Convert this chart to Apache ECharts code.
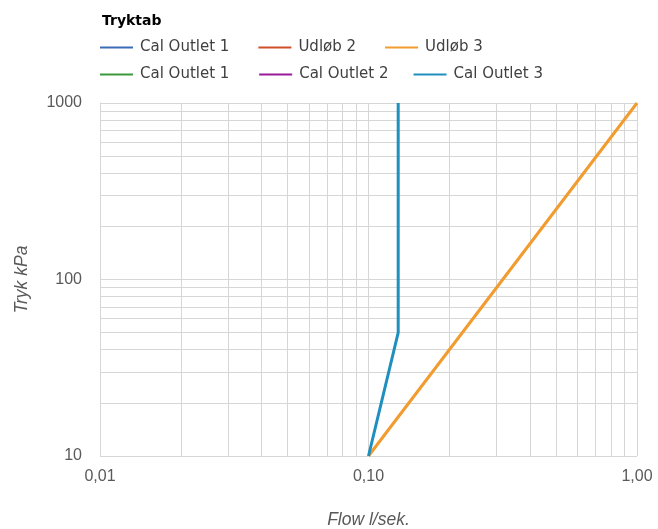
<!DOCTYPE html>
<html><head><meta charset="utf-8">
<script src="https://cdn.jsdelivr.net/npm/echarts@6/dist/echarts.min.js"></script>
<style>html,body{margin:0;padding:0;background:#fff}#c{width:658px;height:529px}</style>
</head><body><div id="c"></div>
<script>
// Data (flow l/sek., pressure kPa)
var seriesNames = ['Cal Outlet 1', 'Udløb 2', 'Udløb 3', 'Cal Outlet 1 ', 'Cal Outlet 2', 'Cal Outlet 3'];
var seriesColors = ['#3A6DB5', '#D0502A', '#F29B2E', '#3A9A3A', '#9A1A9A', '#1F8FC0'];
var calOutlet1A = [];
var udlob2 = [];
var udlob3 = [[0.10, 10], [0.20, 40], [0.50, 250], [1.00, 1000]];
var calOutlet1B = [];
var calOutlet2 = [];
var calOutlet3 = [[0.10, 10], [0.129, 50], [0.129, 100], [0.129, 1000]];
var minorX = [0.02,0.03,0.04,0.05,0.06,0.07,0.08,0.09,0.2,0.3,0.4,0.5,0.6,0.7,0.8,0.9];
var minorY = [20,30,40,50,60,70,80,90,200,300,400,500,600,700,800,900];
var xTicks = ['0,01', '0,10', '1,00'];
var yTicks = ['10', '100', '1000'];

var allData = [calOutlet1A, udlob2, udlob3, calOutlet1B, calOutlet2, calOutlet3];
var chart = echarts.init(document.getElementById('c'));
var series = seriesNames.map(function (n, i) {
  return {
    name: n, type: 'line', data: allData[i], showSymbol: false, symbol: 'none',
    lineStyle: { width: 3, color: seriesColors[i] }, itemStyle: { color: seriesColors[i] },
    z: 10, animation: false
  };
});
var gridMarks = [];
minorX.forEach(function (v) { gridMarks.push({ xAxis: v }); });
minorY.forEach(function (v) { gridMarks.push({ yAxis: v }); });
series.unshift({
  name: 'grid', type: 'line', data: [], z: 1, silent: true, animation: false,
  markLine: { z: 1, silent: true, symbol: ['none', 'none'], label: { show: false },
    emphasis: { disabled: true },
    lineStyle: { color: '#D6D6D6', width: 1, type: 'solid' }, data: gridMarks, animation: false }
});
var legendText = { fontFamily: 'DejaVu Sans', fontSize: 15, color: '#404040', padding: [0, 0, 0, 2] };
chart.setOption({
  animation: false,
  title: { text: 'Tryktab', left: 97, top: 9, textStyle: { fontFamily: 'DejaVu Sans', fontSize: 14, fontWeight: 'bold', color: '#000' } },
  legend: [
    { data: seriesNames.slice(0, 3), left: 95, top: 35, icon: 'rect', itemWidth: 33, itemHeight: 2, itemGap: 29, textStyle: legendText, selectedMode: false },
    { data: seriesNames.slice(3, 6), left: 95, top: 62, icon: 'rect', itemWidth: 33, itemHeight: 2, itemGap: 25, textStyle: legendText, selectedMode: false }
  ],
  grid: { left: 100, right: 21, top: 103, bottom: 73, containLabel: false, outerBoundsMode: 'none' },
  xAxis: {
    type: 'log', logBase: 10, min: 0.01, max: 1,
    name: 'Flow l/sek.', nameLocation: 'middle', nameGap: 55,
    nameTextStyle: { fontFamily: 'Liberation Sans', fontStyle: 'italic', fontSize: 17.5, color: '#595959' },
    axisLine: { show: false }, axisTick: { show: false },
    axisLabel: { fontFamily: 'Liberation Sans', fontSize: 16, color: '#595959', margin: 13,
      formatter: function (v) { var s = v.toFixed(2).replace('.', ','); return xTicks.indexOf(s) >= 0 ? s : ''; } },
    splitLine: { show: true, lineStyle: { color: '#D6D6D6', width: 1 } }
  },
  yAxis: {
    type: 'log', logBase: 10, min: 10, max: 1000,
    name: 'Tryk kPa', nameLocation: 'middle', nameGap: 69, nameRotate: 90,
    nameTextStyle: { fontFamily: 'Liberation Sans', fontStyle: 'italic', fontSize: 17.5, color: '#595959' },
    axisLine: { show: true, lineStyle: { color: '#D6D6D6' } }, axisTick: { show: false },
    axisLabel: { fontFamily: 'Liberation Sans', fontSize: 16, color: '#595959', margin: 18,
      formatter: function (v) { var s = String(Math.round(v)); return yTicks.indexOf(s) >= 0 ? s : ''; } },
    splitLine: { show: true, lineStyle: { color: '#D6D6D6', width: 1 } }
  },
  series: series
});
</script></body></html>
